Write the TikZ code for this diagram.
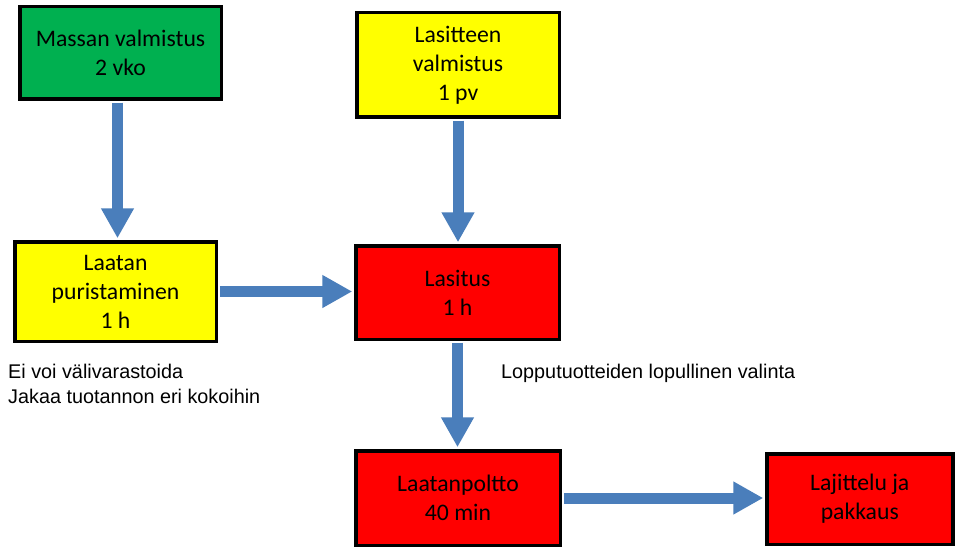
\documentclass[tikz,border=0pt]{standalone}
\usepackage{fontspec}
\setmainfont{Carlito}
\newfontfamily\arialfont{Liberation Sans}
\usetikzlibrary{arrows.meta}
\definecolor{boxgreen}{HTML}{00B050}
\definecolor{boxyellow}{HTML}{FFFF00}
\definecolor{boxred}{HTML}{FF0000}
\definecolor{arrowblue}{HTML}{4A7EBB}
\begin{document}
\begin{tikzpicture}[x=1pt,y=-1pt,
  box/.style={draw=black, line width=3.5pt, inner sep=0pt, align=center,
    font=\fontsize{23.7}{29}\selectfont, text=black},
  flow/.style={draw=arrowblue, line width=11pt,
    -{Triangle[width=31pt,length=30pt]}, shorten <=1.75pt, shorten >=1.75pt},
  note/.style={font=\arialfont\fontsize{19.8}{25}\selectfont, inner sep=0pt, text=black}]
\useasboundingbox (0,0) rectangle (955,548);
\fill[white] (0,0) rectangle (955,548);

\node[box, fill=boxgreen, minimum width=201.5pt, minimum height=92.5pt] (m) at (120.5,53) {Massan valmistus\\2 vko};
\node[box, fill=boxyellow, minimum width=202.5pt, minimum height=104.5pt] (g) at (458,65) {Lasitteen\\valmistus\\1 pv};
\node[box, fill=boxyellow, minimum width=201.5pt, minimum height=99.5pt] (p) at (115.5,291.5) {Laatan\\puristaminen\\1 h};
\node[box, fill=boxred, minimum width=203.5pt, minimum height=93.5pt] (l) at (457.5,292.5) {Lasitus\\1 h};
\node[box, fill=boxred, minimum width=204.5pt, minimum height=94.5pt] (t) at (458,498) {Laatanpoltto\\40 min};
\node[box, fill=boxred, minimum width=186pt, minimum height=90.5pt] (k) at (859.75,499) {Lajittelu ja\\pakkaus};

\node[note, anchor=base west] (n1) at (8,378) {Ei voi välivarastoida};
\node[note, anchor=base west] (n2) at (8,403) {Jakaa tuotannon eri kokoihin};
\node[note, anchor=base west] (n3) at (501,378) {Lopputuotteiden lopullinen valinta};

\draw[flow] ([xshift=-3pt]m.south) -- ([xshift=-3pt]m.south |- p.north);
\draw[flow] (p.east) -- (p.east -| l.west);
\draw[flow] (g.south) -- (g.south |- l.north);
\draw[flow] (l.south) -- (l.south |- t.north);
\draw[flow] (t.east) -- (t.east -| k.west);
\end{tikzpicture}
\end{document}
